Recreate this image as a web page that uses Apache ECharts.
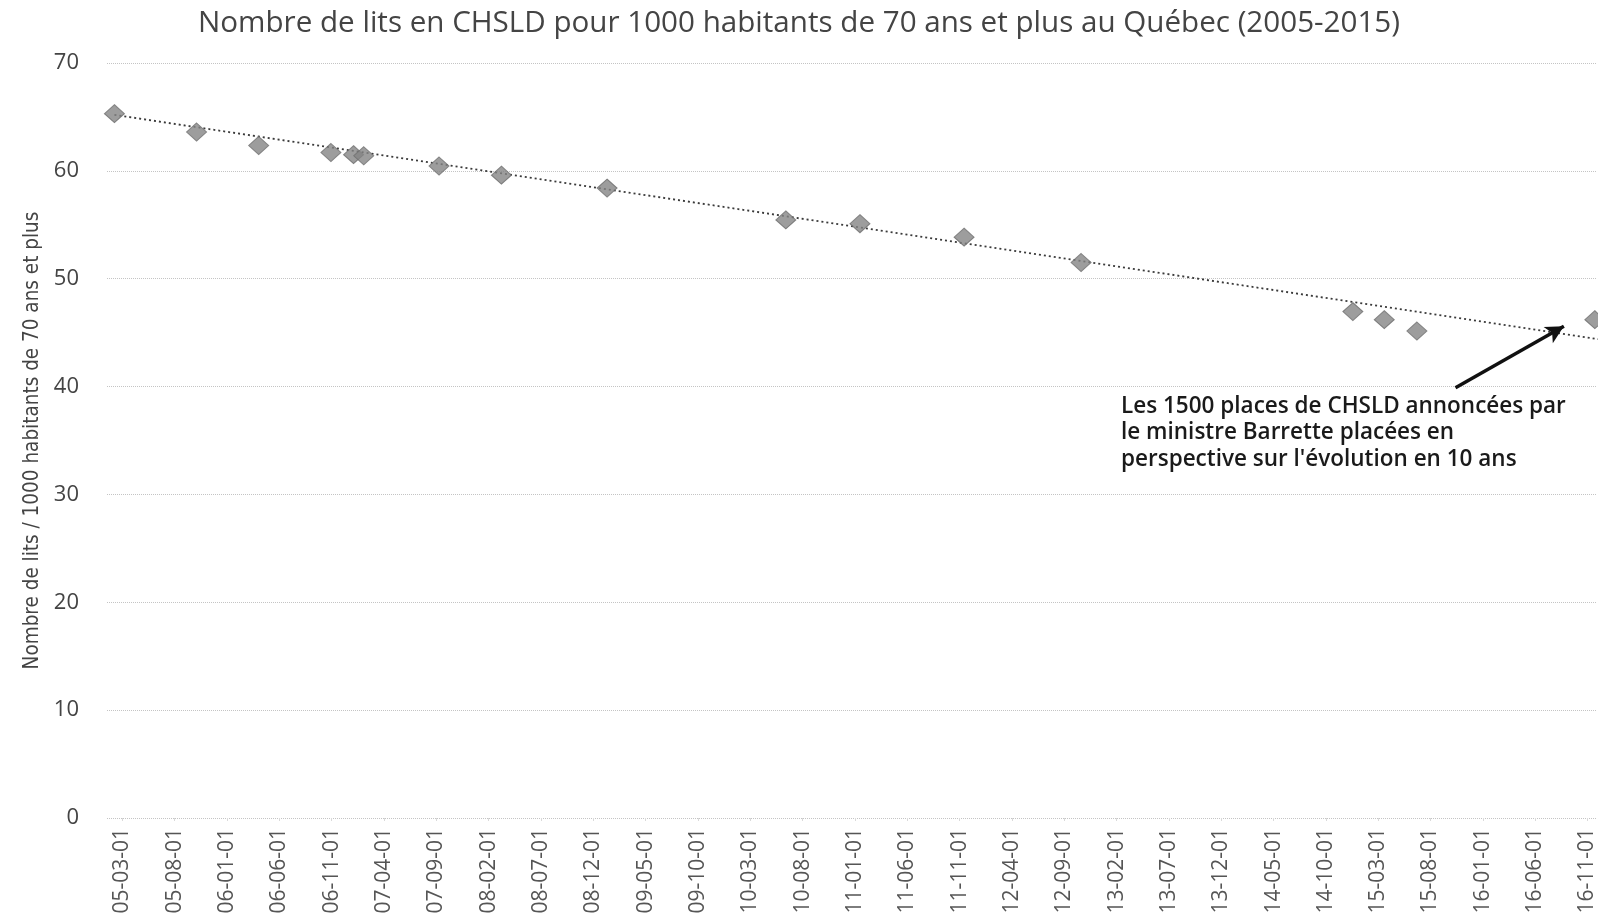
<!DOCTYPE html>
<html>
<head>
<meta charset="utf-8">
<title>Nombre de lits en CHSLD</title>
<script src="https://cdn.jsdelivr.net/npm/echarts@6/dist/echarts.min.js"></script>
<style>
  html, body { margin: 0; padding: 0; background: #fff; }
  #chart { width: 1598px; height: 921px; }
</style>
</head>
<body>
<div id="chart"></div>
<script>
const pointDates = [
  '2005-02-08', '2005-10-04', '2006-04-02', '2006-10-30', '2007-01-04', '2007-02-03',
  '2007-09-09', '2008-03-08', '2009-01-11', '2010-06-13', '2011-01-16', '2011-11-14',
  '2012-10-20', '2014-12-19', '2015-03-19', '2015-06-22', '2016-11-22'
];
const pointValues = [
  65.3, 63.6, 62.35, 61.7, 61.5, 61.4,
  60.45, 59.6, 58.4, 55.45, 55.1, 53.85,
  51.5, 46.95, 46.2, 45.15, 46.2
];

// Dotted trend line, both ends
const trendDates = ['2005-02-08', '2016-12-01'];
const trendValues = [65.2, 44.4];

// Arrow of the annotation (tail, head)
const arrowDates = ['2015-10-13', '2016-08-24'];
const arrowValues = [39.9, 45.6];

const xTickLabels = [
  '05-03-01', '05-08-01', '06-01-01', '06-06-01', '06-11-01', '07-04-01', '07-09-01',
  '08-02-01', '08-07-01', '08-12-01', '09-05-01', '09-10-01', '10-03-01', '10-08-01',
  '11-01-01', '11-06-01', '11-11-01', '12-04-01', '12-09-01', '13-02-01', '13-07-01',
  '13-12-01', '14-05-01', '14-10-01', '15-03-01', '15-08-01', '16-01-01', '16-06-01',
  '16-11-01'
];
const yTicks = [0, 10, 20, 30, 40, 50, 60, 70];

const titleText = 'Nombre de lits en CHSLD pour 1000 habitants de 70 ans et plus au Québec (2005-2015)';
const yAxisName = 'Nombre de lits / 1000 habitants de 70 ans et plus';
const noteLines = [
  'Les 1500 places de CHSLD annoncées par',
  'le ministre Barrette placées en',
  "perspective sur l'évolution en 10 ans"
];

// x is counted in months from 2005-03-01, so the 5-month label spacing stays even
function monthsFrom(dateStr) {
  const [y, m, d] = dateStr.split('-').map(Number);
  const days = new Date(y, m, 0).getDate();
  return (y - 2005) * 12 + (m - 3) + (d - 1) / days;
}

const tickPositions = xTickLabels.map((l) => monthsFrom('20' + l));
const labelAt = {};
tickPositions.forEach((p, i) => { labelAt[p.toFixed(3)] = xTickLabels[i]; });

const font = '"Open Sans", "Noto Sans", sans-serif';
const chart = echarts.init(document.getElementById('chart'), null, { renderer: 'canvas' });

chart.setOption({
  backgroundColor: '#ffffff',
  animation: false,
  title: {
    text: titleText,
    left: 'center',
    top: 4,
    textStyle: { fontFamily: font, fontSize: 29.6, fontWeight: 'normal', color: '#444' }
  },
  grid: { left: 107, right: 0, top: 63, bottom: 103 },
  xAxis: {
    type: 'value',
    min: -1.46,
    max: 140.9,
    axisLine: { show: false },
    splitLine: { show: false },
    axisTick: {
      show: true,
      customValues: tickPositions,
      length: 3,
      lineStyle: { color: '#dadada', width: 1 }
    },
    axisLabel: {
      customValues: tickPositions,
      rotate: 90,
      margin: 10,
      fontFamily: font,
      fontSize: 21,
      color: '#555',
      formatter: (v) => labelAt[v.toFixed(3)] || ''
    }
  },
  yAxis: {
    type: 'value',
    min: yTicks[0],
    max: yTicks[yTicks.length - 1],
    interval: 10,
    name: yAxisName,
    nameLocation: 'middle',
    nameGap: 64,
    nameTextStyle: { fontFamily: '"Liberation Sans Narrow", "DejaVu Sans Condensed", sans-serif', fontSize: 20.5, color: '#444' },
    axisLine: { show: false },
    axisTick: { show: false },
    axisLabel: { margin: 28, fontFamily: font, fontSize: 22, color: '#444' },
    splitLine: { lineStyle: { color: '#c4c4c4', type: 'dotted', width: 1 } }
  },
  graphic: [{
    type: 'text',
    left: 1121,
    top: 393,
    style: {
      text: noteLines.join('\n'),
      fontFamily: font,
      fontSize: 22.5,
      fontWeight: 600,
      lineHeight: 26.5,
      fill: '#1a1a1a'
    }
  }],
  series: [
    {
      name: 'Tendance',
      type: 'line',
      data: trendDates.map((d, i) => [monthsFrom(d), trendValues[i]]),
      showSymbol: false,
      symbol: 'none',
      lineStyle: { color: '#3a3a3a', width: 1.8, type: [2, 3] },
      silent: true,
      z: 1,
      markLine: {
        silent: true,
        symbol: ['none', 'arrow'],
        symbolSize: [14, 18],
        label: { show: false },
        lineStyle: { color: '#111', width: 3.5, type: 'solid' },
        data: [[
          { coord: [monthsFrom(arrowDates[0]), arrowValues[0]] },
          { coord: [monthsFrom(arrowDates[1]), arrowValues[1]] }
        ]]
      }
    },
    {
      name: 'Lits',
      type: 'scatter',
      data: pointDates.map((d, i) => [monthsFrom(d), pointValues[i]]),
      symbol: 'diamond',
      symbolSize: [20, 18],
      itemStyle: { color: '#858585', borderColor: '#6e6e6e', borderWidth: 1 },
      z: 3
    }
  ]
});
</script>
</body>
</html>
